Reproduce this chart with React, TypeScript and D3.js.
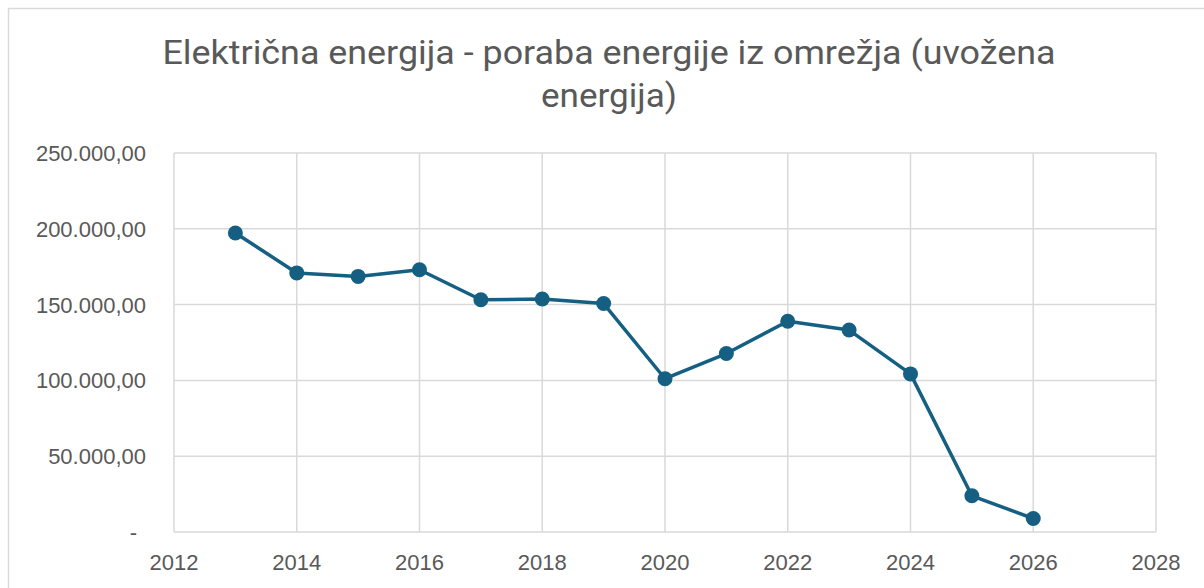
import React from "react";
import * as d3 from "d3";

const years = [2013, 2014, 2015, 2016, 2017, 2018, 2019, 2020, 2021, 2022, 2023, 2024, 2025, 2026];
const values = [197200, 170900, 168600, 173000, 153200, 153700, 150700, 101100, 117700, 139000, 133200, 104300, 23900, 8900];
const xTicks = [2012, 2014, 2016, 2018, 2020, 2022, 2024, 2026, 2028];
const yTicks = [0, 50000, 100000, 150000, 200000, 250000];
const titleLines = ["Električna energija - poraba energije iz omrežja (uvožena", "energija)"];
const titleWidths = [893, 136];

const W = 1204, H = 588;
const left = 174, right = 1156, top = 153, bottom = 532;

function fmt(v: number) {
  if (v === 0) return "-";
  const s = Math.round(v).toString().replace(/\B(?=(\d{3})+(?!\d))/g, ".");
  return s + ",00";
}

export default function App() {
  const x = d3.scaleLinear().domain([2012, 2028]).range([left, right]);
  const y = d3.scaleLinear().domain([0, 250000]).range([bottom, top]);
  const line = d3.line<number>().x((_, i) => x(years[i])).y((d) => y(d));
  const gray = "#d9d9d9";
  const txt = "#595959";
  return (
    <svg width={W} height={H} style={{ position: "absolute", left: 0, top: 0, background: "#fff" }}>
      <rect x={8.5} y={8.5} width={W} height={H} fill="#fff" stroke={gray} strokeWidth={1.5} />
      {titleLines.map((t, i) => (
        <text key={i} x={609} y={64 + i * 43} textAnchor="middle" fill={txt}
          textLength={titleWidths[i]} lengthAdjust="spacingAndGlyphs"
          style={{ fontFamily: "Roboto, 'Liberation Sans', sans-serif", fontWeight: 400, fontSize: 34 }}>
          {t}
        </text>
      ))}
      {yTicks.map((t) => (
        <line key={"gy" + t} x1={left} x2={right} y1={y(t)} y2={y(t)} stroke={gray} strokeWidth={1.5} />
      ))}
      {xTicks.map((t) => (
        <line key={"gx" + t} x1={x(t)} x2={x(t)} y1={top} y2={bottom} stroke={gray} strokeWidth={1.5} />
      ))}
      {yTicks.map((t) => (
        <text key={"ty" + t} x={t === 0 ? 137 : 146} y={y(t) + 8} textAnchor="end" fill={txt}
          style={{ fontFamily: "'Liberation Sans', Arial, sans-serif", fontSize: 22 }}>
          {fmt(t)}
        </text>
      ))}
      {xTicks.map((t) => (
        <text key={"tx" + t} x={x(t)} y={570} textAnchor="middle" fill={txt}
          style={{ fontFamily: "'Liberation Sans', Arial, sans-serif", fontSize: 22 }}>
          {t}
        </text>
      ))}
      <path d={line(values) || ""} fill="none" stroke="#156082" strokeWidth={3.5} strokeLinejoin="round" />
      {values.map((v, i) => (
        <circle key={i} cx={x(years[i])} cy={y(v)} r={7.5} fill="#156082" />
      ))}
    </svg>
  );
}
